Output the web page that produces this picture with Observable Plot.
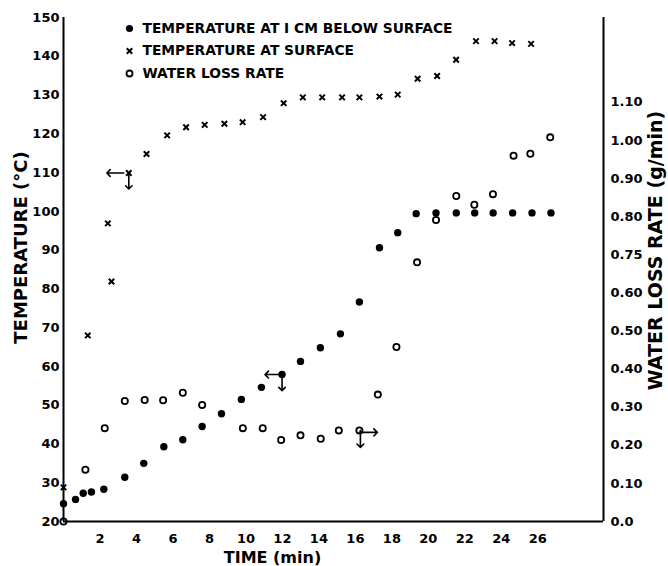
<!DOCTYPE html>
<html><head><meta charset="utf-8">
<script src="https://cdn.jsdelivr.net/npm/d3@7"></script>
<script src="https://cdn.jsdelivr.net/npm/@observablehq/plot@0.6"></script>
<style>
body{margin:0;background:#fff;}
#chart svg{display:block;}
</style></head><body><div id="chart"></div>
<script>
// Temperature at 1 cm below surface (filled circles, left axis)
const belowTime = [0, 0.66, 1.08, 1.53, 2.21, 3.36, 4.40, 5.50, 6.54, 7.60, 8.66, 9.75, 10.85, 11.98, 12.99, 14.08, 15.18, 16.22, 17.32, 18.32, 19.33, 20.42, 21.53, 22.54, 23.55, 24.62, 25.68, 26.72];
const belowTemp = [24.6, 25.7, 27.3, 27.6, 28.3, 31.4, 35.0, 39.3, 41.1, 44.5, 47.8, 51.5, 54.6, 57.9, 61.3, 64.8, 68.4, 76.6, 90.6, 94.5, 99.4, 99.6, 99.6, 99.6, 99.6, 99.6, 99.6, 99.6];
// Temperature at surface (x markers, left axis)
const surfaceTime = [0, 1.33, 2.43, 2.63, 3.58, 4.55, 5.68, 6.72, 7.74, 8.82, 9.82, 10.94, 12.07, 13.12, 14.18, 15.27, 16.22, 17.32, 18.32, 19.41, 20.48, 21.52, 22.61, 23.63, 24.59, 25.63];
const surfaceTemp = [28.8, 68.0, 96.9, 81.9, 109.9, 114.8, 119.6, 121.7, 122.3, 122.6, 123.0, 124.3, 127.9, 129.4, 129.4, 129.4, 129.4, 129.6, 130.1, 134.2, 134.9, 139.1, 143.9, 143.9, 143.4, 143.2];
// Water loss rate (open circles, right axis, g/min)
const waterTime = [0, 1.2, 2.26, 3.36, 4.45, 5.46, 6.54, 7.6, 9.83, 10.92, 11.93, 12.99, 14.1, 15.09, 16.22, 17.23, 18.25, 19.38, 20.42, 21.53, 22.52, 23.54, 24.67, 25.59, 26.68];
const waterRate = [0, 0.136, 0.245, 0.316, 0.319, 0.318, 0.338, 0.306, 0.245, 0.245, 0.214, 0.226, 0.217, 0.239, 0.239, 0.333, 0.458, 0.680, 0.791, 0.854, 0.831, 0.859, 0.960, 0.965, 1.008];

// Axis ticks and labels
const timeTicks = [2, 4, 6, 8, 10, 12, 14, 16, 18, 20, 22, 24, 26];
const tempTicks = [20, 30, 40, 50, 60, 70, 80, 90, 100, 110, 120, 130, 140, 150];
const rateTicks = [0, 0.1, 0.2, 0.3, 0.4, 0.5, 0.6, 0.7, 0.8, 0.9, 1.0, 1.1];
const rateTickLabels = ["0.0", "0.10", "0.20", "0.30", "0.40", "0.50", "0.60", "0.75", "0.80", "0.90", "1.00", "1.10"];
const legendLabels = ["TEMPERATURE AT I CM BELOW SURFACE", "TEMPERATURE AT SURFACE", "WATER LOSS RATE"];
const legendSymbols = ["filled", "times", "open"];
// Axis-pointer annotations: which point of which series carries arrows
const surfacePointerIndex = 4;
const belowPointerIndex = 13;
const waterPointerIndex = 14;

// relation of the right axis to the left one
const TEMP_BASE = 20;
const RATE_TO_TEMP = 98.3;
const toTemp = r => TEMP_BASE + r * RATE_TO_TEMP;

const below = belowTime.map((t, i) => ({t, v: belowTemp[i]}));
const surface = surfaceTime.map((t, i) => ({t, v: surfaceTemp[i]}));
const water = waterTime.map((t, i) => ({t, v: toTemp(waterRate[i])}));

const font = "DejaVu Sans, sans-serif";
const legendMarks = legendLabels.flatMap((lab, i) => {
  const dy = 11 + i * 22.5;
  const sym = legendSymbols[i];
  const symMark = sym === "filled"
    ? Plot.dot([lab], {frameAnchor: "top-left", dx: 66, dy, r: 3.6, fill: "black", stroke: "none"})
    : sym === "times"
    ? Plot.dot([lab], {frameAnchor: "top-left", dx: 66, dy, symbol: "times", r: 2.6, stroke: "black", strokeWidth: 2})
    : Plot.dot([lab], {frameAnchor: "top-left", dx: 66, dy, r: 3, fill: "none", stroke: "black", strokeWidth: 1.8});
  return [symMark, Plot.text([lab], {frameAnchor: "top-left", dx: 79, dy, text: d => d, textAnchor: "start", lineAnchor: "middle", fontSize: 13.8, fontWeight: "bold", fill: "black"})];
});

const chart = Plot.plot({
  width: 668,
  height: 566,
  marginLeft: 63,
  marginRight: 65,
  marginTop: 17,
  marginBottom: 45,
  style: {fontFamily: font, fontWeight: "bold", fontSize: "13px", color: "black", background: "white"},
  x: {domain: [0, 29.6]},
  y: {domain: [20, 150]},
  marks: [
    Plot.axisX(timeTicks, {tickSize: 0, tickPadding: 12, label: null, fontSize: 13}),
    Plot.axisY(tempTicks, {tickSize: 0, tickPadding: 4, label: null, fontSize: 13}),
    Plot.axisY(rateTicks.map(toTemp), {anchor: "right", tickSize: 0, tickPadding: 7, label: null, fontSize: 13,
      tickFormat: d => rateTickLabels[Math.round((d - TEMP_BASE) / RATE_TO_TEMP * 10)]}),
    Plot.ruleX([0], {stroke: "black", strokeWidth: 2}),
    Plot.ruleX([29.6], {stroke: "black", strokeWidth: 2}),
    Plot.ruleY([20], {stroke: "black", strokeWidth: 2}),
    Plot.dot(surface, {x: "t", y: "v", symbol: "times", r: 2.6, stroke: "black", strokeWidth: 2}),
    Plot.dot(below, {x: "t", y: "v", r: 3.7, fill: "black", stroke: "none"}),
    Plot.dot(water, {x: "t", y: "v", r: 3.1, fill: "none", stroke: "black", strokeWidth: 1.8}),
    Plot.vector([surface[surfacePointerIndex]], {x: "t", y: "v", length: 17, rotate: 270, anchor: "start", dx: -5, stroke: "black", strokeWidth: 1.6}),
    Plot.vector([surface[surfacePointerIndex]], {x: "t", y: "v", length: 16, rotate: 180, anchor: "start", stroke: "black", strokeWidth: 1.6}),
    Plot.vector([below[belowPointerIndex]], {x: "t", y: "v", length: 17, rotate: 270, anchor: "start", stroke: "black", strokeWidth: 1.6}),
    Plot.vector([below[belowPointerIndex]], {x: "t", y: "v", length: 16, rotate: 180, anchor: "start", stroke: "black", strokeWidth: 1.6}),
    Plot.vector([water[waterPointerIndex]], {x: "t", y: "v", length: 18, rotate: 90, anchor: "start", dy: 2, stroke: "black", strokeWidth: 1.6}),
    Plot.vector([water[waterPointerIndex]], {x: "t", y: "v", length: 17, rotate: 180, anchor: "start", dx: 1, stroke: "black", strokeWidth: 1.6}),
    ...legendMarks,
    Plot.text(["TEMPERATURE (°C)"], {frameAnchor: "left", rotate: -90, dx: -42, dy: -22, text: d => d, textAnchor: "middle", lineAnchor: "middle", fontSize: 18, fontWeight: "bold", fill: "black"}),
    Plot.text(["WATER LOSS RATE (g/min)"], {frameAnchor: "right", rotate: -90, dx: 52, dy: -19, text: d => d, textAnchor: "middle", lineAnchor: "middle", fontSize: 19, fontWeight: "bold", fill: "black"}),
    Plot.text(["TIME (min)"], {frameAnchor: "bottom", dx: -61, dy: 36, text: d => d, textAnchor: "middle", lineAnchor: "middle", fontSize: 16, fontWeight: "bold", fill: "black"})
  ]
});
document.getElementById("chart").append(chart);
</script>
</body></html>
